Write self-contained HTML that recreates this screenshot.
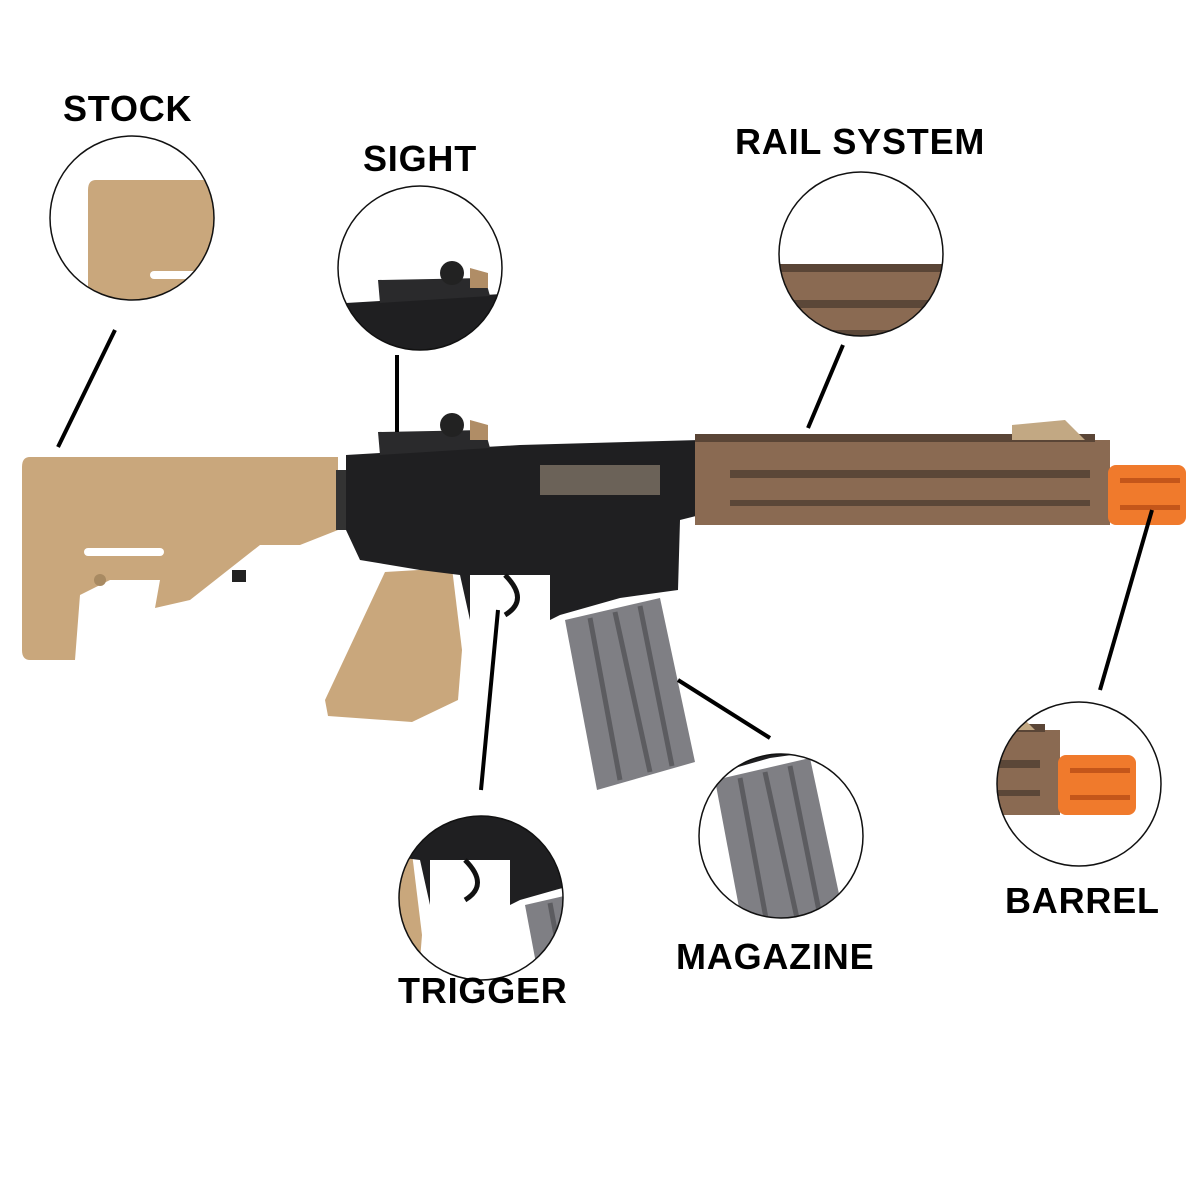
<!DOCTYPE html>
<html><head><meta charset="utf-8"><style>
html,body{margin:0;padding:0;background:#fff}
svg{display:block}
text{font-family:"Liberation Sans",sans-serif;font-weight:900;fill:#000;letter-spacing:0.8px}
</style></head><body>
<svg width="1200" height="1200" viewBox="0 0 1200 1200" xmlns="http://www.w3.org/2000/svg">
<defs>
<g id="gun">
  <path d="M30 457 L338 457 L338 530 L300 545 L260 545 L190 600 L155 608 L160 580 L110 580 L80 595 L75 660 L30 660 Q22 660 22 650 L22 467 Q22 457 30 457Z" fill="#c9a77c"/>
  <rect x="84" y="548" width="80" height="8" rx="4" fill="#fff"/>
  <circle cx="100" cy="580" r="6" fill="#a88a62"/>
  <rect x="232" y="570" width="14" height="12" fill="#222"/>
  <rect x="336" y="470" width="20" height="60" fill="#333"/>
  <path d="M385 572 L452 568 L462 650 L458 700 L412 722 L328 716 L325 700 Z" fill="#c9a77c"/>
  <path d="M346 455 L520 445 L700 440 L700 515 L680 520 L678 590 L620 598 L560 615 L550 620 L470 620 L460 575 L420 570 L360 560 L346 530Z" fill="#1f1f21"/>
  <path d="M378 432 L485 430 L490 448 L380 455Z" fill="#2a2a2c"/>
  <circle cx="452" cy="425" r="12" fill="#222"/>
  <path d="M470 420 L488 425 L488 440 L470 440Z" fill="#b08d66"/>
  <rect x="540" y="465" width="120" height="30" fill="#6b6258"/>
  <rect x="470" y="575" width="80" height="45" fill="#fff"/>
  <path d="M505 575 Q530 600 505 615" stroke="#111" stroke-width="5" fill="none"/>
  <rect x="695" y="440" width="415" height="85" fill="#8a6a52"/>
  <rect x="695" y="434" width="400" height="8" fill="#5a4536"/>
  <g fill="#5b4738">
    <rect x="730" y="470" width="360" height="8"/>
    <rect x="730" y="500" width="360" height="6"/>
  </g>
  <path d="M1012 425 L1065 420 L1085 440 L1012 440Z" fill="#c2a883"/>
  <rect x="1108" y="465" width="78" height="60" rx="8" fill="#f07a2c"/>
  <rect x="1120" y="478" width="60" height="5" fill="#c4561a"/>
  <rect x="1120" y="505" width="60" height="5" fill="#c4561a"/>
  <path d="M565 620 L660 598 L695 762 L597 790Z" fill="#7f7f84"/>
  <path d="M590 618 L620 780 M615 612 L650 772 M640 606 L672 766" stroke="#5c5c60" stroke-width="5" fill="none"/>
</g>
<clipPath id="c1"><circle cx="132" cy="218" r="82"/></clipPath>
<clipPath id="c2"><circle cx="420" cy="268" r="82"/></clipPath>
<clipPath id="c3"><circle cx="861" cy="254" r="82"/></clipPath>
<clipPath id="c4"><circle cx="1079" cy="784" r="82"/></clipPath>
<clipPath id="c5"><circle cx="781" cy="836" r="82"/></clipPath>
<clipPath id="c6"><circle cx="481" cy="898" r="82"/></clipPath>
</defs>

<use href="#gun"/>

<g clip-path="url(#c1)"><use href="#gun" transform="translate(66,-277)"/></g>
<g clip-path="url(#c2)"><use href="#gun" transform="translate(0,-152)"/></g>
<g clip-path="url(#c3)"><use href="#gun" transform="translate(40,-170)"/></g>
<g clip-path="url(#c4)"><use href="#gun" transform="translate(-50,290)"/></g>
<g clip-path="url(#c5)"><use href="#gun" transform="translate(150,160)"/></g>
<g clip-path="url(#c6)"><use href="#gun" transform="translate(-40,285)"/></g>

<g fill="none" stroke="#111" stroke-width="1.5">
<circle cx="132" cy="218" r="82"/>
<circle cx="420" cy="268" r="82"/>
<circle cx="861" cy="254" r="82"/>
<circle cx="1079" cy="784" r="82"/>
<circle cx="781" cy="836" r="82"/>
<circle cx="481" cy="898" r="82"/>
</g>
<g stroke="#000" stroke-width="4">
<line x1="115" y1="330" x2="58" y2="447"/>
<line x1="397" y1="355" x2="397" y2="432"/>
<line x1="843" y1="345" x2="808" y2="428"/>
<line x1="1152" y1="510" x2="1100" y2="690"/>
<line x1="678" y1="680" x2="770" y2="738"/>
<line x1="498" y1="610" x2="481" y2="790"/>
</g>
<g font-size="36">
<text x="63" y="121">STOCK</text>
<text x="363" y="171">SIGHT</text>
<text x="735" y="154">RAIL SYSTEM</text>
<text x="1005" y="913">BARREL</text>
<text x="676" y="969">MAGAZINE</text>
<text x="398" y="1003">TRIGGER</text>
</g>
</svg>
</body></html>
